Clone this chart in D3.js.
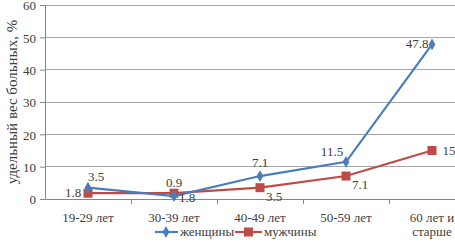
<!DOCTYPE html>
<html>
<head>
<meta charset="utf-8">
<script src="https://cdn.jsdelivr.net/npm/d3@7"></script>
<style>
  body { margin: 0; background: #fff; }
  #chart text { font-family: "Liberation Serif", serif !important; }
</style>
</head>
<body>
<div id="chart"></div>
<script>
const categories = ["19-29 лет", "30-39 лет", "40-49 лет", "50-59 лет", "60 лет и старше"];
const women = [3.5, 0.9, 7.1, 11.5, 47.8];
const men = [1.8, 1.8, 3.5, 7.1, 15];
const yTicks = [0, 10, 20, 30, 40, 50, 60];

const width = 455;
const height = 242;
const margin = { left: 45, top: 5, bottom: 43 };
const serif = '"Liberation Serif"';
const textColor = "#404040";
const fontSize = 13;

const svg = d3.select("#chart").append("svg")
  .attr("width", width)
  .attr("height", height)
  .style("font-family", serif);

// plot runs off the right edge in the original, so the range is wider than the picture
const x = d3.scaleBand().domain(categories).range([margin.left, 475]);
const y = d3.scaleLinear().domain([0, 60]).range([height - margin.bottom, margin.top]);

// gridlines
svg.append("g")
  .selectAll("line")
  .data(yTicks.slice(1))
  .join("line")
  .attr("x1", margin.left).attr("x2", width)
  .attr("y1", d => y(d)).attr("y2", d => y(d))
  .attr("stroke", "#a6a6a6").attr("stroke-width", 1).attr("shape-rendering", "crispEdges");

// y axis
const yAxis = svg.append("g")
  .attr("transform", `translate(${margin.left},0)`)
  .call(d3.axisLeft(y).tickValues(yTicks).tickSize(5).tickPadding(4));
yAxis.attr("font-family", null);
yAxis.select(".domain").attr("stroke", "#868686");
yAxis.selectAll(".tick line").attr("stroke", "#868686");
yAxis.selectAll("text").attr("font-size", fontSize).attr("fill", textColor).attr("dy", "0.36em");

// x axis
const xAxis = svg.append("g")
  .attr("transform", `translate(0,${y(0)})`)
  .call(d3.axisBottom(x).tickSize(0).tickFormat(""));
xAxis.select(".domain").attr("stroke", "#868686");
xAxis.selectAll(".tick").remove();

// category boundary ticks
svg.append("g")
  .selectAll("line")
  .data(categories)
  .join("line")
  .attr("x1", d => x(d) + x.bandwidth()).attr("x2", d => x(d) + x.bandwidth())
  .attr("y1", y(0)).attr("y2", y(0) + 5)
  .attr("stroke", "#868686").attr("shape-rendering", "crispEdges");

// category labels (wrapped)
const catLines = { "60 лет и старше": ["60 лет и", "старше"] };
svg.append("g")
  .selectAll("text")
  .data(categories)
  .join("text")
  .attr("x", d => x(d) + x.bandwidth() / 2)
  .attr("y", 222)
  .attr("text-anchor", "middle")
  .attr("font-size", fontSize)
  .attr("fill", textColor)
  .each(function (d) {
    const lines = catLines[d] || [d];
    d3.select(this).selectAll("tspan")
      .data(lines)
      .join("tspan")
      .attr("x", x(d) + x.bandwidth() / 2)
      .attr("dy", (l, i) => (i === 0 ? 0 : 14))
      .text(l => l);
  });

// y title
svg.append("text")
  .attr("transform", `translate(17,${(y(0) + y(60)) / 2}) rotate(-90)`)
  .attr("text-anchor", "middle")
  .attr("font-size", 15)
  .attr("fill", textColor)
  .text("удельный вес больных, %");

const cx = c => x(c) + x.bandwidth() / 2;
const line = d3.line().x((d, i) => cx(categories[i])).y(d => y(d));

const blue = "#4a7ebb";
const red = "#be4b48";

// men series
svg.append("path").datum(men)
  .attr("d", line).attr("fill", "none").attr("stroke", red).attr("stroke-width", 2.2);
svg.append("g").selectAll("rect").data(men).join("rect")
  .attr("x", (d, i) => cx(categories[i]) - 4.5)
  .attr("y", d => y(d) - 4.5)
  .attr("width", 9).attr("height", 9)
  .attr("fill", red);

// women series
svg.append("path").datum(women)
  .attr("d", line).attr("fill", "none").attr("stroke", blue).attr("stroke-width", 2.2);
svg.append("g").selectAll("path").data(women).join("path")
  .attr("d", d3.symbol(d3.symbolDiamond, 40))
  .attr("transform", (d, i) => `translate(${cx(categories[i])},${y(d)})`)
  .attr("fill", blue);

// data labels: offsets relative to the point
const womenOffsets = [[8, -7], [0, -9], [0, -9], [-14, -6], [-15, 4]];
const menOffsets = [[-15, 4], [13, 9], [14, 13], [14, 13], [17, 4]];

function labels(data, offsets) {
  svg.append("g").selectAll("text").data(data).join("text")
    .attr("x", (d, i) => cx(categories[i]) + offsets[i][0])
    .attr("y", (d, i) => y(d) + offsets[i][1])
    .attr("text-anchor", "middle")
    .attr("font-size", fontSize)
    .attr("fill", textColor)
    .text(d => d);
}
labels(women, womenOffsets);
labels(men, menOffsets);

// legend
const legend = svg.append("g").attr("transform", "translate(0,232)");
legend.append("line").attr("x1", 155).attr("x2", 178).attr("y1", 0).attr("y2", 0)
  .attr("stroke", blue).attr("stroke-width", 2.2);
legend.append("path").attr("d", d3.symbol(d3.symbolDiamond, 40))
  .attr("transform", "translate(166,0)").attr("fill", blue);
legend.append("text").attr("x", 180).attr("y", 4).attr("font-size", fontSize).attr("fill", textColor).text("женщины");
legend.append("line").attr("x1", 235).attr("x2", 262).attr("y1", 0).attr("y2", 0)
  .attr("stroke", red).attr("stroke-width", 2.2);
legend.append("rect").attr("x", 244).attr("y", -4.5).attr("width", 9).attr("height", 9).attr("fill", red);
legend.append("text").attr("x", 264).attr("y", 4).attr("font-size", fontSize).attr("fill", textColor).text("мужчины");

svg.selectAll("text").style("font-family", serif);
</script>
</body>
</html>
